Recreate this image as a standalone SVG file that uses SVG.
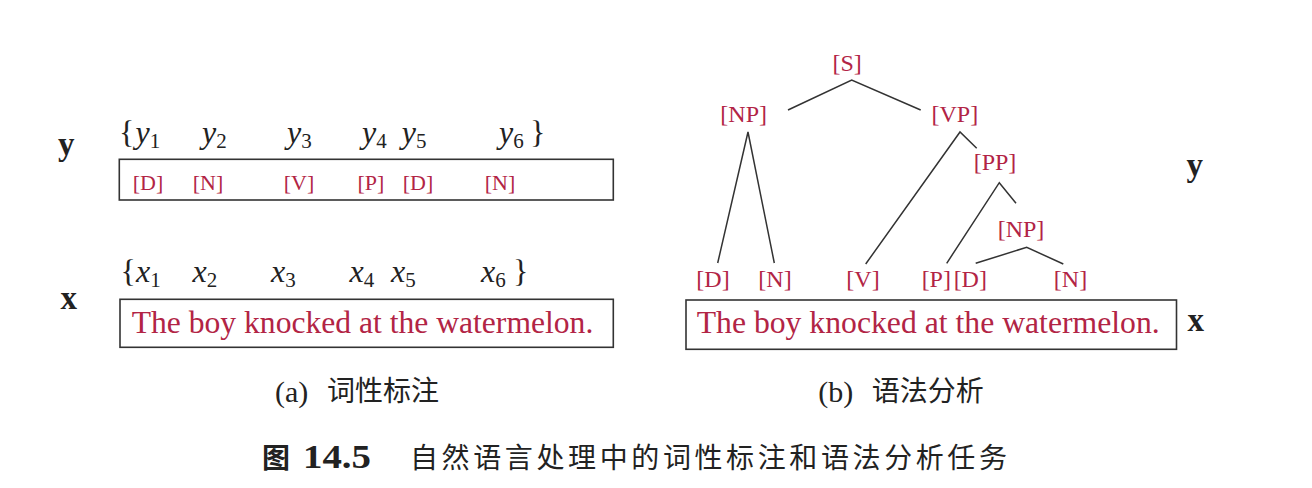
<svg xmlns="http://www.w3.org/2000/svg" width="1312" height="488" viewBox="0 0 1312 488">
<style>
.bg{fill:#ffffff}
.box{fill:none;stroke:#333;stroke-width:1.6}
.edge{fill:none;stroke:#333;stroke-width:1.5}
.tag{font-family:"Liberation Serif",serif;fill:#b22445;text-anchor:middle}
.t22{font-size:22px}
.t24{font-size:24px}
.sent{font-family:"Liberation Serif",serif;font-size:31.5px;fill:#b22445}
.bold{font-family:"Liberation Serif",serif;font-weight:bold;font-size:33px;fill:#222}
.mi{font-family:"Liberation Serif",serif;font-style:italic;font-size:32px;fill:#222}
.sub{font-style:normal;font-size:21px}
.br{font-family:"Liberation Serif",serif;font-size:32px;fill:#222}
.cap{font-family:"Liberation Serif",serif;font-size:30px;fill:#222}
.cjk{font-family:"Noto Sans CJK SC",sans-serif;font-size:28px;fill:#222}
</style>
<rect class="bg" x="0" y="0" width="1312" height="488"/>

<g id="left-y">
  <text class="bold" x="58" y="155">y</text>
  <text class="br" x="119" y="143">{</text>
  <text class="mi" x="135.5" y="143">y<tspan class="sub" dy="5">1</tspan></text>
  <text class="mi" x="202" y="143">y<tspan class="sub" dy="5">2</tspan></text>
  <text class="mi" x="287" y="143">y<tspan class="sub" dy="5">3</tspan></text>
  <text class="mi" x="362" y="143">y<tspan class="sub" dy="5">4</tspan></text>
  <text class="mi" x="401.7" y="143">y<tspan class="sub" dy="5">5</tspan></text>
  <text class="mi" x="499" y="143">y<tspan class="sub" dy="5">6</tspan></text>
  <text class="br" x="530" y="143">}</text>
  <rect class="box" x="119.3" y="159.3" width="494" height="40.7"/>
  <text class="tag t22" x="148" y="190">[D]</text>
  <text class="tag t22" x="208" y="190">[N]</text>
  <text class="tag t22" x="299" y="190">[V]</text>
  <text class="tag t22" x="371" y="190">[P]</text>
  <text class="tag t22" x="418" y="190">[D]</text>
  <text class="tag t22" x="500" y="190">[N]</text>
</g>

<g id="left-x">
  <text class="bold" x="60.5" y="309">x</text>
  <text class="br" x="120.5" y="282">{</text>
  <text class="mi" x="136" y="282">x<tspan class="sub" dy="5">1</tspan></text>
  <text class="mi" x="192.5" y="282">x<tspan class="sub" dy="5">2</tspan></text>
  <text class="mi" x="271" y="282">x<tspan class="sub" dy="5">3</tspan></text>
  <text class="mi" x="349.5" y="282">x<tspan class="sub" dy="5">4</tspan></text>
  <text class="mi" x="391" y="282">x<tspan class="sub" dy="5">5</tspan></text>
  <text class="mi" x="481" y="282">x<tspan class="sub" dy="5">6</tspan></text>
  <text class="br" x="513" y="282">}</text>
  <rect class="box" x="120" y="299.3" width="493.3" height="48"/>
  <text class="sent" x="131.7" y="333" textLength="461.6" lengthAdjust="spacingAndGlyphs">The boy knocked at the watermelon.</text>
</g>

<g id="caption-a">
  <text class="cap" x="275" y="402">(a)</text>
  <text class="cjk" x="327" y="401">词性标注</text>
</g>

<g id="tree-edges">
  <polyline class="edge" points="788,110 851.7,80 920.7,110"/>
  <polyline class="edge" points="717.7,263 748,132 774.3,263"/>
  <polyline class="edge" points="865.7,264 960,132 976.7,148.3"/>
  <polyline class="edge" points="946.7,263.3 999.3,182.7 1016,203.3"/>
  <polyline class="edge" points="975.7,263.3 1026.7,247.3 1063.3,264"/>
</g>

<g id="node-S"><text class="tag t24" x="847.2" y="70.7">[S]</text></g>
<g id="node-NP1"><text class="tag t24" x="743.7" y="121.7">[NP]</text></g>
<g id="node-VP"><text class="tag t24" x="954.8" y="121.7">[VP]</text></g>
<g id="node-PP"><text class="tag t24" x="995" y="170">[PP]</text></g>
<g id="node-NP2"><text class="tag t24" x="1021" y="236.7">[NP]</text></g>
<g id="leaf-D1"><text class="tag t24" x="713" y="287">[D]</text></g>
<g id="leaf-N1"><text class="tag t24" x="775" y="287">[N]</text></g>
<g id="leaf-V"><text class="tag t24" x="863" y="287">[V]</text></g>
<g id="leaf-P"><text class="tag t24" x="936.3" y="287">[P]</text></g>
<g id="leaf-D2"><text class="tag t24" x="970.3" y="287">[D]</text></g>
<g id="leaf-N2"><text class="tag t24" x="1070.5" y="287">[N]</text></g>

<g id="right-box">
  <rect class="box" x="686" y="300" width="490.5" height="49.3"/>
  <text class="sent" x="696.7" y="333.3" textLength="463" lengthAdjust="spacingAndGlyphs">The boy knocked at the watermelon.</text>
  <text class="bold" x="1186.5" y="176">y</text>
  <text class="bold" x="1187.5" y="330.7">x</text>
</g>

<g id="caption-b">
  <text class="cap" x="818.3" y="402">(b)</text>
  <text class="cjk" x="871.7" y="401">语法分析</text>
</g>

<g id="figure-caption">
  <text class="cjk" x="262" y="468" font-weight="bold">图</text>
  <text class="bold" x="303" y="468" font-size="33px" textLength="68" lengthAdjust="spacingAndGlyphs">14.5</text>
  <text class="cjk" x="410" y="468" textLength="597" lengthAdjust="spacing">自然语言处理中的词性标注和语法分析任务</text>
</g>
</svg>
